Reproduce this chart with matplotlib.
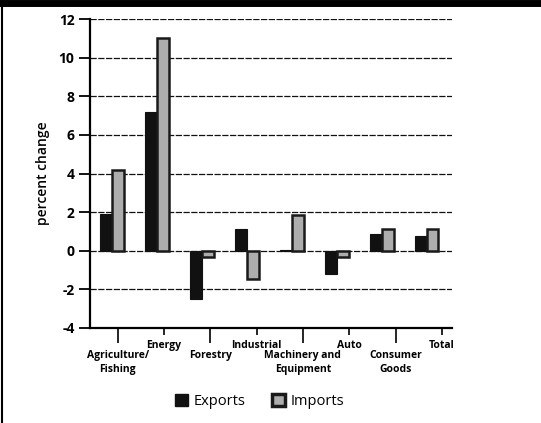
import numpy as np
import matplotlib.pyplot as plt
from matplotlib.patches import Patch

# Values (percent change)
categories = ["Agriculture/\nFishing", "Energy", "Forestry", "Industrial",
              "Machinery and\nEquipment", "Auto", "Consumer\nGoods", "Total"]
exports = [1.9, 7.2, -2.5, 1.15, 0.05, -1.2, 0.85, 0.75]
imports = [4.2, 11.0, -0.3, -1.45, 1.85, -0.3, 1.15, 1.15]
yticks = [-4, -2, 0, 2, 4, 6, 8, 10, 12]

plt.rcParams['font.family'] = ['Open Sans', 'DejaVu Sans']

fig = plt.figure(figsize=(5.41, 4.23), dpi=100)
ax = fig.add_axes([0.166, 0.2246, 0.669, 0.7304])

x = np.arange(len(categories))
w = 0.265
ax.bar(x - w / 2, exports, width=w, color='#111111', edgecolor='#111111',
       linewidth=0.8, zorder=3)
ax.bar(x + w / 2, imports, width=w, color='#adadad', edgecolor='#1a1a1a',
       linewidth=1.8, zorder=3)

ax.set_xlim(-0.49, 7.56)
ax.set_ylim(-4, 12)
ax.set_yticks(yticks)
ax.set_yticklabels([str(t) for t in yticks], fontsize=10, fontweight='bold')
ax.tick_params(axis='y', length=8, width=1.3, pad=3)

# dashed grid lines
for t in yticks[1:]:
    ax.axhline(t, color='#111111', linestyle=(0, (5, 1.2)), linewidth=0.9,
               zorder=1)

# category ticks, alternating long and short
tick_pos = x * 1.03 + 0.13
ax.set_xticks(tick_pos[0::2])
ax.set_xticks(tick_pos[1::2], minor=True)
ax.set_xticklabels(categories[0::2], fontsize=7.5, fontweight='bold',
                   linespacing=1.3)
ax.set_xticklabels(categories[1::2], minor=True, fontsize=7.5,
                   fontweight='bold', linespacing=1.3)
ax.tick_params(axis='x', which='major', length=11, width=1.2, pad=5)
ax.tick_params(axis='x', which='minor', length=5, width=1.2, pad=4)

for side in ['top', 'right']:
    ax.spines[side].set_visible(False)
ax.spines['left'].set_linewidth(1.6)
ax.spines['bottom'].set_linewidth(1.6)

ax.set_ylabel('percent change', fontsize=10, fontweight='semibold',
              labelpad=6)

handles = [Patch(facecolor='#111111', edgecolor='#111111', label='Exports'),
           Patch(facecolor='#adadad', edgecolor='#1a1a1a', linewidth=2.5,
                 label='Imports')]
fig.legend(handles=handles, loc='center', bbox_to_anchor=(0.48, 0.05),
           ncol=2, frameon=False, fontsize=10.5, handlelength=0.9,
           handleheight=0.9, handletextpad=0.4, columnspacing=1.8)

# frame edges of the scanned page
fig.add_artist(plt.Line2D([0, 1], [0.994, 0.994], color='black',
                          linewidth=5, transform=fig.transFigure))
fig.add_artist(plt.Line2D([0.004, 0.004], [0, 1], color='black',
                          linewidth=1.5, transform=fig.transFigure))

fig.savefig('out.png', dpi=100)
